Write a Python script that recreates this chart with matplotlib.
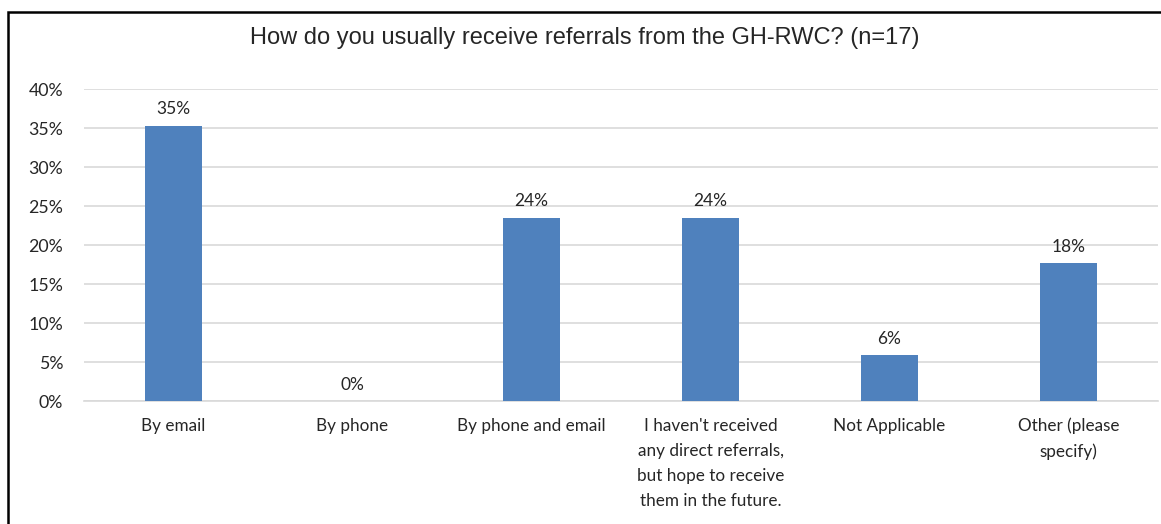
import matplotlib.pyplot as plt
from matplotlib.patches import Rectangle
from matplotlib.ticker import PercentFormatter

# Survey responses (n=17)
categories = [
    "By email",
    "By phone",
    "By phone and email",
    "I haven't received\nany direct referrals,\nbut hope to receive\nthem in the future.",
    "Not Applicable",
    "Other (please\nspecify)",
]
counts = [6, 0, 4, 4, 1, 3]
n_total = 17
shares = [c / n_total for c in counts]

fig = plt.figure(figsize=(11.61, 5.24), dpi=100)
ax = fig.add_axes([0.0724, 0.2347, 0.925, 0.5953])

x = range(len(categories))
bars = ax.bar(x, shares, width=0.32, color="#4F81BD", zorder=3)

# value labels above each bar
for rect, v in zip(bars, shares):
    ax.annotate(f"{v:.0%}", (rect.get_x() + rect.get_width() / 2, v),
                xytext=(0, 6), textcoords="offset points",
                ha="center", va="bottom", fontsize=12.5,
                family="Lato", color="#262626")

ax.set_xlim(-0.5, len(categories) - 0.5)
ax.set_ylim(0, 0.40)
ax.set_yticks([i * 0.05 for i in range(9)])
ax.yaxis.set_major_formatter(PercentFormatter(1.0, decimals=0))
ax.set_xticks(list(x))
ax.set_xticklabels(categories, fontsize=12.3, family="Lato", color="#262626",
                   linespacing=1.7, va="top")
for lbl in ax.get_yticklabels():
    lbl.set_fontsize(12.8)
    lbl.set_family("Lato")
    lbl.set_color("#262626")

ax.tick_params(axis="both", length=0)
ax.tick_params(axis="y", pad=15)
ax.tick_params(axis="x", pad=12)
ax.grid(axis="y", color="#D9D9D9", linewidth=1.2, zorder=0)
for side in ["top", "right", "left"]:
    ax.spines[side].set_visible(False)
ax.spines["bottom"].set_color("#D9D9D9")
ax.spines["bottom"].set_linewidth(1.2)

fig.text(0.504, 0.928, "How do you usually receive referrals from the GH-RWC? (n=17)",
         ha="center", va="center", fontsize=17, family="Liberation Sans",
         color="#262626")

# outer frame, running off the right and bottom edges
fig.patches.append(Rectangle((8 / 1161, -0.1), 1.2, 1 - 12 / 524 + 0.1,
                             transform=fig.transFigure, fill=False,
                             edgecolor="black", linewidth=1.8))

fig.savefig("out.png", dpi=100)
